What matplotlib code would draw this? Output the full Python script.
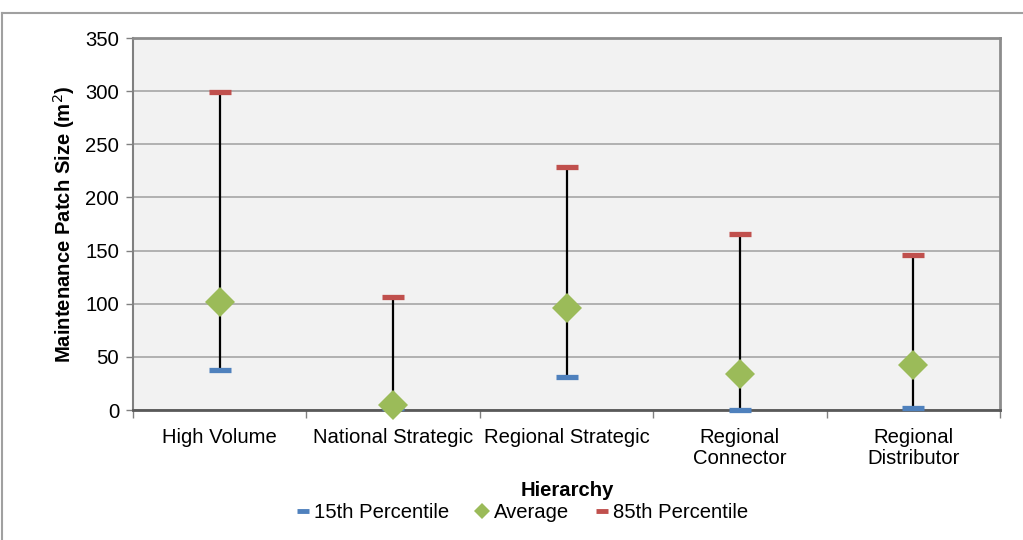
import matplotlib
matplotlib.use("Agg")
import matplotlib.pyplot as plt
from matplotlib.lines import Line2D
import numpy as np

plt.rcParams['font.family'] = ['Liberation Sans', 'DejaVu Sans']

categories = ["High Volume", "National Strategic", "Regional Strategic",
              "Regional\nConnector", "Regional\nDistributor"]
p15 = [38, 2, 31, 0, 2]
average = [102, 5, 96, 34, 42]
p85 = [299, 106, 229, 166, 146]

blue = "#4F81BD"
green = "#9BBB59"
red = "#C0504D"

W, H = 1023, 540
fig = plt.figure(figsize=(W / 100, H / 100), dpi=100)
fig.patch.set_facecolor("white")

# outer chart frame (top and left edges visible)
fig.add_artist(Line2D([2 / W, 1], [1 - 13 / H, 1 - 13 / H], transform=fig.transFigure,
                      color="#A0A0A0", linewidth=1.5))
fig.add_artist(Line2D([2 / W, 2 / W], [0, 1 - 13 / H], transform=fig.transFigure,
                      color="#A0A0A0", linewidth=1.5))

ax = fig.add_axes([133 / W, 1 - 410 / H, (1000 - 133) / W, (410 - 38) / H])
ax.set_facecolor("#F2F2F2")

fs = 14.6

x = np.arange(len(categories))
for xi, lo, hi in zip(x, p15, p85):
    ax.plot([xi, xi], [lo, hi], color="black", linewidth=1.6, zorder=2, solid_capstyle="butt")

ax.plot(x, p15, linestyle="none", marker="_", markersize=16.5, markeredgewidth=3.8,
        color=blue, zorder=3, clip_on=False)
ax.plot(x, p85, linestyle="none", marker="_", markersize=16.5, markeredgewidth=3.8,
        color=red, zorder=3, clip_on=False)
ax.plot(x, average, linestyle="none", marker="D", markersize=15, color=green,
        markeredgewidth=0, zorder=4, clip_on=False)

ax.set_xlim(-0.5, len(categories) - 0.5)
ax.set_ylim(0, 350)
ax.set_yticks(np.arange(0, 351, 50))
ax.yaxis.grid(True, color="#A6A6A6", linewidth=1.2)
ax.set_axisbelow(True)

ax.set_xticks(x)
ax.set_xticklabels(categories, fontsize=fs, linespacing=1.15)
ax.set_xticks(np.arange(-0.5, len(categories) + 0.5, 1), minor=True)
ax.tick_params(axis="x", which="major", length=0, pad=13)
ax.tick_params(axis="x", which="minor", length=6, width=1, color="#808080", direction="out")
ax.tick_params(axis="y", length=5, width=1, color="#808080", labelsize=fs, pad=5)

for side in ["top", "right"]:
    ax.spines[side].set_color("#8C8C8C")
    ax.spines[side].set_linewidth(2)
ax.spines["left"].set_color("#808080")
ax.spines["left"].set_linewidth(1.5)
ax.spines["bottom"].set_color("#595959")
ax.spines["bottom"].set_linewidth(2)

ax.set_ylabel("Maintenance Patch Size (m$^2$)", fontsize=fs, fontweight="bold", labelpad=6)

fig.text(567 / W, 1 - 490 / H, "Hierarchy", fontsize=fs, fontweight="bold",
         ha="center", va="center")

handles = [
    Line2D([], [], linestyle="none", marker="_", markersize=9, markeredgewidth=3.5, color=blue),
    Line2D([], [], linestyle="none", marker="D", markersize=8, markeredgewidth=0, color=green),
    Line2D([], [], linestyle="none", marker="_", markersize=9, markeredgewidth=3.5, color=red),
]
fig.legend(handles, ["15th Percentile", "Average", "85th Percentile"],
           loc="center", bbox_to_anchor=(522 / W, 1 - 513 / H), ncol=3,
           frameon=False, fontsize=fs, handlelength=0.7, handletextpad=0.2,
           columnspacing=1.3, borderpad=0)

fig.savefig("out.png", dpi=100)
